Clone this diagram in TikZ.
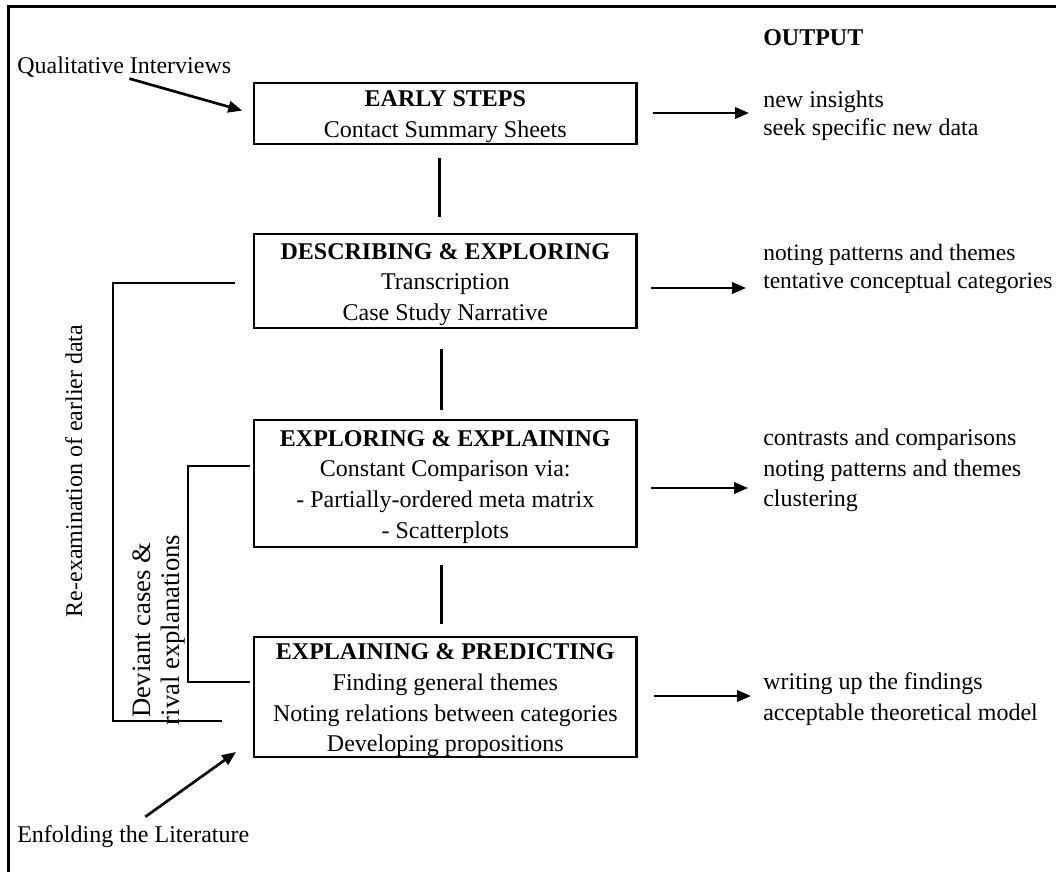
\documentclass[tikz,border=0pt]{standalone}
\usepackage{fontspec}
\setmainfont{Liberation Serif}
\usetikzlibrary{arrows.meta}
\newcommand{\boxtopfix}{\rule{0pt}{17pt}}
\begin{document}
\begin{tikzpicture}[x=0.75pt,y=-0.75pt,
  stagebox/.style={draw, line width=2.2pt, minimum width=287pt, align=center,
    font=\fontsize{18}{23}\selectfont, inner sep=0pt},
  outtext/.style={anchor=north west, inner sep=0pt, align=left},
  plain/.style={inner sep=0pt, font=\fontsize{18}{21}\selectfont},
  conn/.style={line width=2pt},
  arr/.style={line width=2pt, -{Triangle[length=10.5pt,width=8.5pt]}}
]
\useasboundingbox (0,0) rectangle (1056,872);
\fill[white] (0,0) rectangle (1056,872);
% outer frame (open at right and bottom)
\draw[line width=2.4pt] (1056,6.5) -- (8.5,6.5) -- (8.5,872);

% stage boxes
\node[stagebox, minimum height=45.75pt] (b1) at (445.3,113.5)
  {\boxtopfix\textbf{EARLY STEPS}\\Contact Summary Sheets};
\node[stagebox, minimum height=70.5pt] (b2) at (445.3,281)
  {\boxtopfix\textbf{DESCRIBING \& EXPLORING}\\Transcription\\Case Study Narrative};
\node[stagebox, minimum height=95.25pt] (b3) at (445.3,483.5)
  {\boxtopfix\textbf{EXPLORING \& EXPLAINING}\\Constant Comparison via:\\- Partially-ordered meta matrix\\- Scatterplots};
\node[stagebox, minimum height=90pt] (b4) at (445.3,697)
  {\boxtopfix\textbf{EXPLAINING \& PREDICTING}\\Finding general themes\\Noting relations between categories\\Developing propositions};

% vertical connectors between boxes
\draw[conn, shorten <=9.5pt, shorten >=12pt] ([xshift=-4.5pt]b1.south) -- ([xshift=-4.5pt]b2.north);
\draw[conn, shorten <=15pt, shorten >=6.5pt] ([xshift=-3pt]b2.south) -- ([xshift=-3pt]b3.north);
\draw[conn, shorten <=12.5pt, shorten >=9pt] ([xshift=-3pt]b3.south) -- ([xshift=-3pt]b4.north);

% inputs
\node[plain, anchor=base west] (qi) at (17,73) {Qualitative Interviews};
\node[plain, anchor=base west] (el) at (17,842) {Enfolding the Literature};
\coordinate (e4) at (236,752);
\draw[arr, shorten <=4pt, shorten >=8pt] (qi.south) -- (b1.west);
\draw[arr] ([xshift=9pt,yshift=6pt]el.north) -- (e4);

% output column
\node[plain, anchor=base west, font=\fontsize{18}{21}\selectfont\bfseries] (out) at (763,45) {OUTPUT};
\node[outtext, font=\fontsize{18}{21}\selectfont] (o1) at (763,90.6)
  {new insights\\seek specific new data};
\node[outtext, font=\fontsize{17.6}{21}\selectfont] (o2) at (763,244)
  {noting patterns and themes\\tentative conceptual categories};
\node[outtext, font=\fontsize{18}{23}\selectfont] (o3) at (763,428.6)
  {contrasts and comparisons\\noting patterns and themes\\clustering};
\node[outtext, font=\fontsize{18}{23}\selectfont] (o4) at (763,672.6)
  {writing up the findings\\acceptable theoretical model};

\coordinate (a1) at (749,113);
\coordinate (a2) at (746,288);
\coordinate (a3) at (748,488);
\coordinate (a4) at (751,696);
\draw[arr, shorten <=11pt] (b1.east |- a1) -- (a1);
\draw[arr, shorten <=10pt] (b2.east |- a2) -- (a2);
\draw[arr, shorten <=10pt] (b3.east |- a3) -- (a3);
\draw[arr, shorten <=12pt] (b4.east |- a4) -- (a4);

% feedback brackets
\coordinate (r1) at (235,283);
\coordinate (rx) at (113,500);
\coordinate (r2) at (222,721);
\draw[conn] (r1) -| (rx) |- (r2);
\coordinate (d1) at (250,466);
\coordinate (dx) at (188,570);
\coordinate (d2) at (250,682);
\draw[conn] (d1) -| (dx) |- (d2);

\node[plain, rotate=90, anchor=base] (re) at (82,471) {Re-examination of earlier data};
\node[inner sep=0pt, rotate=90, align=center, font=\fontsize{20}{22}\selectfont] (dv) at (159,630)
  {Deviant cases \&\\rival explanations};
\end{tikzpicture}
\end{document}
